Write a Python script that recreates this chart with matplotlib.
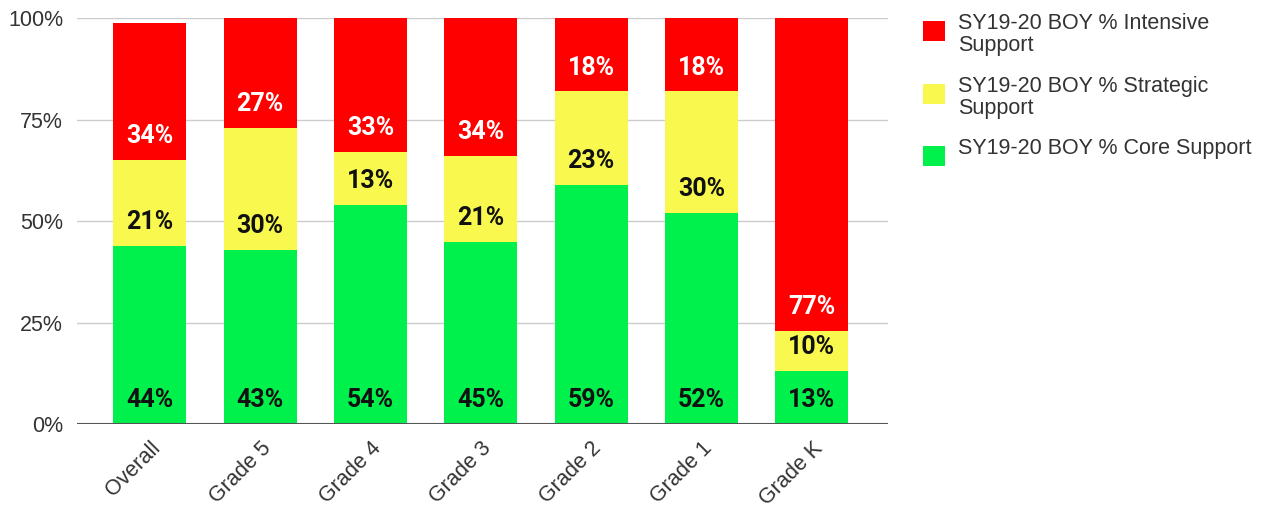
import matplotlib.pyplot as plt
import numpy as np
from matplotlib.patches import Rectangle

grades = ['Overall', 'Grade 5', 'Grade 4', 'Grade 3', 'Grade 2', 'Grade 1', 'Grade K']
core = [44, 43, 54, 45, 59, 52, 13]
strategic = [21, 30, 13, 21, 23, 30, 10]
intensive = [34, 27, 33, 34, 18, 18, 77]

series_names = ['SY19-20 BOY % Core Support',
                'SY19-20 BOY % Strategic Support',
                'SY19-20 BOY % Intensive Support']
legend_labels = ['SY19-20 BOY % Intensive\nSupport',
                 'SY19-20 BOY % Strategic\nSupport',
                 'SY19-20 BOY % Core Support']
colors = ['#00f04c', '#f8f84e', '#ff0000']
label_colors = ['#111111', '#111111', '#ffffff']

fig = plt.figure(figsize=(12.67, 5.08), dpi=100)
ax = fig.add_axes([0.0608, 0.1654, 0.64, 0.7982])

x = np.arange(len(grades))
bottom = np.zeros(len(grades))
for vals, col, tcol in zip([core, strategic, intensive], colors, label_colors):
    vals = np.array(vals, dtype=float)
    ax.bar(x, vals, 0.66, bottom=bottom, color=col, zorder=2)
    for xi, b, v in zip(x, bottom, vals):
        ax.text(xi, b + 5.9, f'{int(v)}%', ha='center', va='center',
                color=tcol, fontsize=18, fontweight='bold', family='Roboto', zorder=3)
    bottom += vals

ax.set_xlim(-0.66, 6.69)
ax.set_ylim(0, 100)
ax.set_yticks([0, 25, 50, 75, 100])
ax.set_yticklabels(['0%', '25%', '50%', '75%', '100%'])
ax.yaxis.grid(True, color='#cccccc', linewidth=1, zorder=0)
ax.axhline(0, color='#555555', linewidth=1.5, zorder=4)
for s in ax.spines.values():
    s.set_visible(False)
ax.tick_params(axis='both', length=0, labelsize=15.5, labelcolor='#333333')
ax.tick_params(axis='y', pad=10)
ax.set_xticks(x)
ax.set_xticklabels(grades, rotation=45, ha='right', rotation_mode='anchor',
                   family='Liberation Sans')
for lab in ax.get_yticklabels():
    lab.set_family('Liberation Sans')
ax.tick_params(axis='x', pad=10)

# legend drawn by hand so squares line up with first line of text
entry_tops = [0.959, 0.835, 0.713]
for lab, col, yt in zip(legend_labels, colors[::-1], entry_tops):
    fig.patches.append(Rectangle((923 / 1267, yt - 0.040), 22 / 1267, 0.040,
                                 transform=fig.transFigure, facecolor=col,
                                 edgecolor='none'))
    fig.text(958 / 1267, yt + 0.016, lab, ha='left', va='top', fontsize=15.5,
             color='#333333', family='Liberation Sans', linespacing=1.08)

fig.savefig('out.png', dpi=100)
